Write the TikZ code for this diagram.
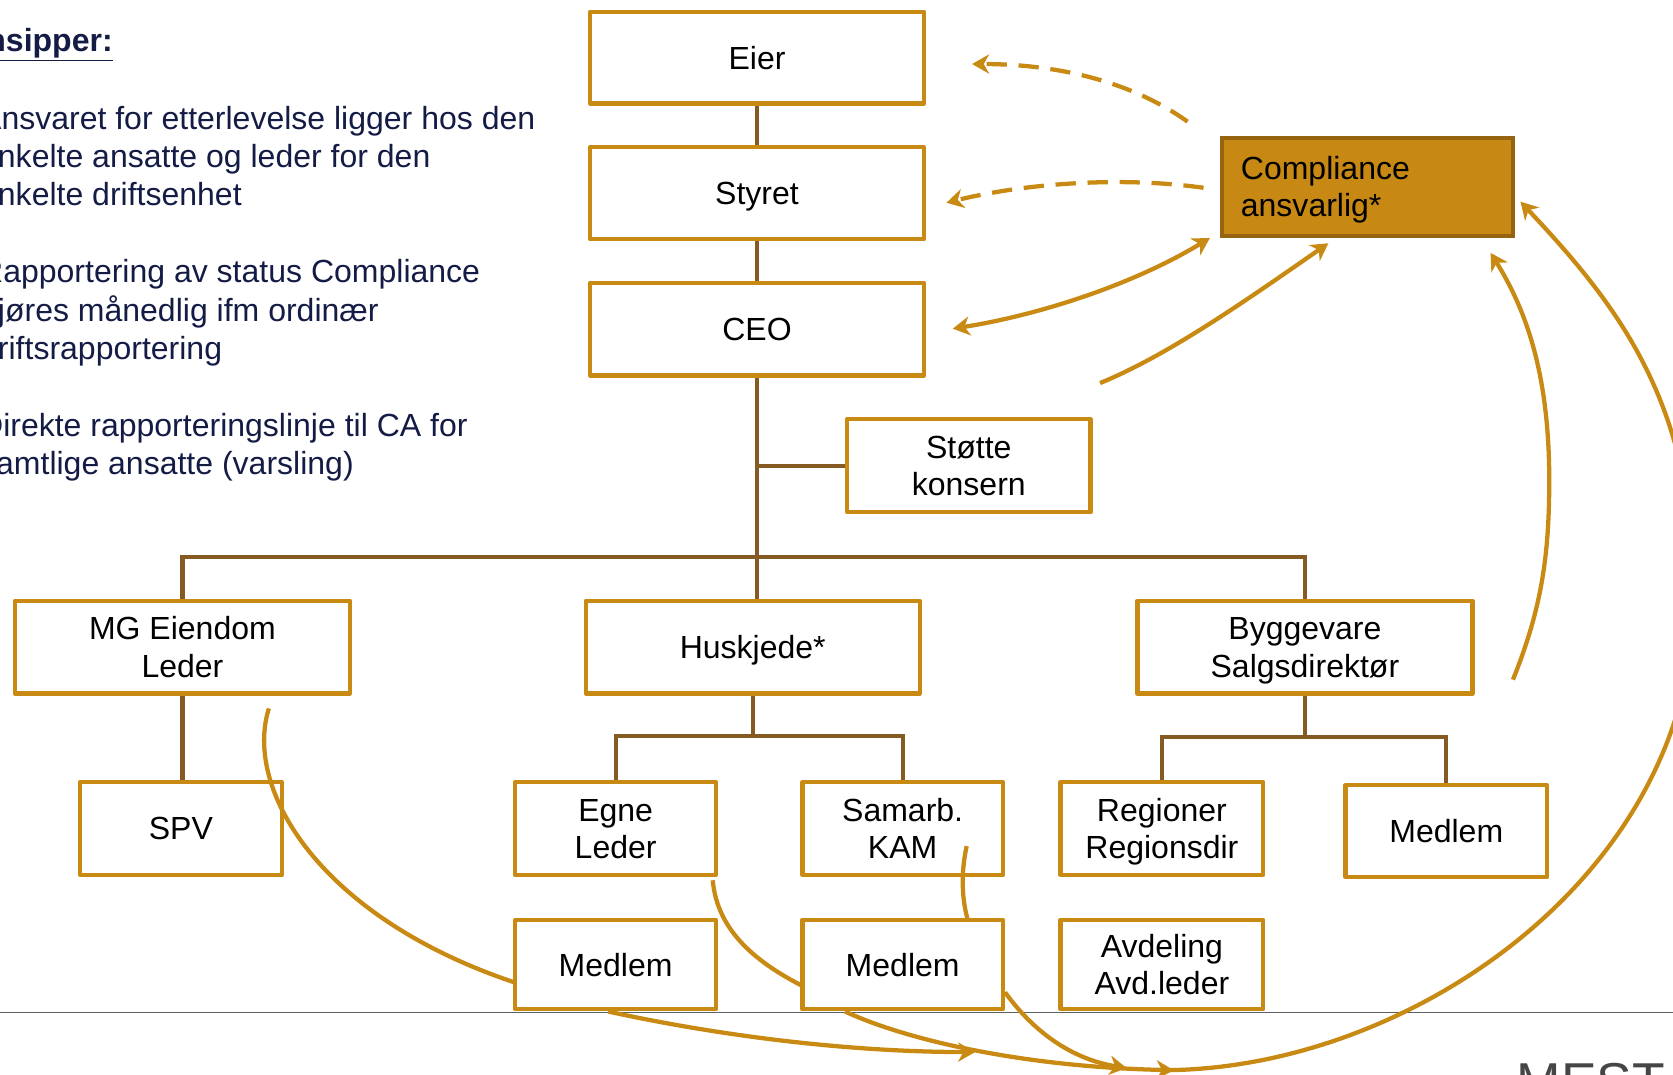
\documentclass[tikz,border=0pt]{standalone}
\usepackage{fontspec}
\setmainfont{Liberation Sans}
\usetikzlibrary{arrows.meta}
\definecolor{boxc}{RGB}{201,138,19}
\definecolor{busc}{RGB}{133,90,35}
\definecolor{compfill}{RGB}{200,136,20}
\definecolor{compdraw}{RGB}{150,100,16}
\definecolor{navy}{RGB}{20,28,70}
\definecolor{rulec}{RGB}{95,95,95}
\definecolor{logoc}{RGB}{70,70,70}
\newcommand\onel[1]{\raisebox{0pt}[10.74pt][0pt]{#1}}
\newcommand\twol[2]{\raisebox{0pt}[28.24pt][0pt]{\begin{tabular}[b]{@{}c@{}}#1\\#2\end{tabular}}}
\newcommand\twoll[2]{\raisebox{0pt}[28.24pt][0pt]{\begin{tabular}[b]{@{}l@{}}#1\\#2\end{tabular}}}
\tikzset{
  >={Stealth[length=8pt,width=9pt,inset=2.5pt]},
  bx/.style={draw=boxc, line width=2pt, fill=white, inner sep=0pt, align=center,
             font=\fontsize{15}{17.5}\selectfont, line join=round},
  bus/.style={draw=busc, line width=2pt},
  repn/.style={draw=boxc, line width=2pt},
  rep/.style={repn, ->},
  dsh/.style={rep, dash pattern=on 9.5pt off 5.5pt},
  lt/.style={anchor=base west, inner sep=0pt, text=navy, font=\fontsize{15}{18}\selectfont},
}
\begin{document}
\begin{tikzpicture}[x=0.5pt, y=-0.5pt]
\useasboundingbox (0,0) rectangle (1568,1007);
\clip (0,0) rectangle (1568,1007);

% bottom rule
\coordinate (rl) at (0,949);
\coordinate (rr) at (1568,949);
\draw[rulec, line width=0.8pt] (rl) -- (rr);

% left text
\node[lt, anchor=base east, font=\fontsize{15}{18}\selectfont\bfseries] (head) at (106,48) {\underline{Prinsipper:}};
\node[lt] (t1) at (-19,121) {Ansvaret for etterlevelse ligger hos den};
\node[lt] (t2) at (-19,157) {enkelte ansatte og leder for den};
\node[lt] (t3) at (-19,193) {enkelte driftsenhet};
\node[lt] (t4) at (-19,265) {Rapportering av status Compliance};
\node[lt] (t5) at (-19,301) {gjøres månedlig ifm ordinær};
\node[lt] (t6) at (-19,337) {driftsrapportering};
\node[lt] (t7) at (-19,409) {Direkte rapporteringslinje til CA for};
\node[lt] (t8) at (-19,445) {samtlige ansatte (varsling)};

% boxes
\node[bx, minimum width=156.5pt, minimum height=43pt] (eier) at (709.5,54) {\onel{Eier}};
\node[bx, minimum width=156.5pt, minimum height=43pt] (styret) at (709.5,181) {\onel{Styret}};
\node[bx, minimum width=156.5pt, minimum height=43.5pt] (ceo) at (709.5,308.5) {\onel{CEO}};
\node[bx, minimum width=114pt, minimum height=43.5pt] (stotte) at (908,436.5) {\twol{Støtte}{konsern}};
\node[bx, minimum width=157pt, minimum height=43.5pt] (mg) at (171,606.5) {\twol{MG Eiendom}{Leder}};
\node[bx, minimum width=156.5pt, minimum height=43.5pt] (hus) at (705.5,606.5) {\onel{Huskjede*}};
\node[bx, minimum width=157pt, minimum height=43.5pt] (bygg) at (1223,606.5) {\twol{Byggevare}{Salgsdirektør}};
\node[bx, minimum width=94.5pt, minimum height=43.5pt] (spv) at (169.5,776.5) {\onel{SPV}};
\node[bx, minimum width=94pt, minimum height=43.5pt] (egne) at (577,776.5) {\twol{Egne}{Leder}};
\node[bx, minimum width=94pt, minimum height=43.5pt] (samarb) at (846,776.5) {\twol{Samarb.}{KAM}};
\node[bx, minimum width=95pt, minimum height=43.5pt] (regioner) at (1089,776.5) {\twol{Regioner}{Regionsdir}};
\node[bx, minimum width=94.5pt, minimum height=43pt] (medr) at (1355.5,779) {\onel{Medlem}};
\node[bx, minimum width=94pt, minimum height=42pt] (med1) at (577,904) {\onel{Medlem}};
\node[bx, minimum width=94pt, minimum height=42pt] (med2) at (846,904) {\onel{Medlem}};
\node[bx, minimum width=95pt, minimum height=42pt] (avd) at (1089,904) {\twol{Avdeling}{Avd.leder}};
\node[draw=compdraw, fill=compfill, line width=2pt, minimum height=46pt, text width=118.5pt,
      inner xsep=9pt, inner ysep=0pt, align=left, font=\fontsize{15}{17.5}\selectfont] (comp) at (1281.5,175) {\twoll{Compliance}{ansvarlig*}};

% logo
\node[anchor=base west, inner sep=0pt, text=logoc, font=\fontsize{25}{25}\selectfont] (logo) at (1421,1031) {MEST};

% org lines
\coordinate (ty) at (0,522);
\coordinate (hy) at (0,690);
\coordinate (by) at (0,691);
\draw[bus] (eier) -- (styret);
\draw[bus] (styret) -- (ceo);
\draw[bus] (ceo.south) -- (ceo.south |- hus.north);
\draw[bus] (ceo.south |- stotte.west) -- (stotte.west);
\draw[bus] (mg.north) |- (ceo.south |- ty) -| (bygg.north);
\draw[bus] (mg.south) -- (mg.south |- spv.north);
\draw[bus] (hus.south) -- (hus.south |- hy);
\draw[bus] (egne.north) |- (hus.south |- hy) -| (samarb.north);
\draw[bus] (bygg.south) -- (bygg.south |- by);
\draw[bus] (regioner.north) |- (bygg.south |- by) -| (medr.north);

% reporting curves
\coordinate (d1s) at (1113,114); \coordinate (d1e) at (911,60);
\draw[dsh] (d1s) .. controls (1060,76) and (990,60) .. (d1e);
\coordinate (d2s) at (1128,176); \coordinate (d2e) at (887,190);
\draw[dsh] (d2s) .. controls (1050,165) and (960,172) .. (d2e);
\coordinate (c1) at (893,308); \coordinate (c2) at (1134,223);
\draw[repn, <->] (c1) .. controls (970,296) and (1060,268) .. (c2);
\coordinate (a4s) at (1031,359); \coordinate (a4e) at (1245,228);
\draw[rep] (a4s) .. controls (1095,333) and (1170,280) .. (a4e);
\coordinate (a5s) at (1418,637); \coordinate (a5m) at (1452,450); \coordinate (a5e) at (1397,237);
\draw[rep] (a5s) .. controls (1445,570) and (1452,520) .. (a5m) .. controls (1452,350) and (1430,290) .. (a5e);
\coordinate (hub) at (1090,1003); \coordinate (bm) at (1588,560); \coordinate (be) at (1425,189);
\draw[rep] (hub) .. controls (1320,1003) and (1588,820) .. (bm) .. controls (1588,380) and (1520,290) .. (be);

\coordinate (s1s) at (252,664); \coordinate (s1e) at (483,921);
\draw[repn] (s1s) .. controls (228,740) and (300,860) .. (s1e);
\coordinate (s2s) at (570,948); \coordinate (s2e) at (914,986);
\draw[rep] (s2s) .. controls (680,972) and (800,986) .. (s2e);
\coordinate (s3s) at (668,825); \coordinate (s3e) at (752,924);
\draw[repn] (s3s) .. controls (672,870) and (705,900) .. (s3e);
\coordinate (s4s) at (792,948); \coordinate (s4e) at (1100,1003);
\draw[rep] (s4s) .. controls (850,975) and (960,1000) .. (s4e);
\coordinate (s5s) at (906,793); \coordinate (s5e) at (907,862);
\draw[repn] (s5s) .. controls (900,820) and (902,845) .. (s5e);
\coordinate (s6s) at (942,930); \coordinate (s6e) at (1056,1001);
\draw[rep] (s6s) .. controls (965,962) and (1000,992) .. (s6e);
\end{tikzpicture}
\end{document}
